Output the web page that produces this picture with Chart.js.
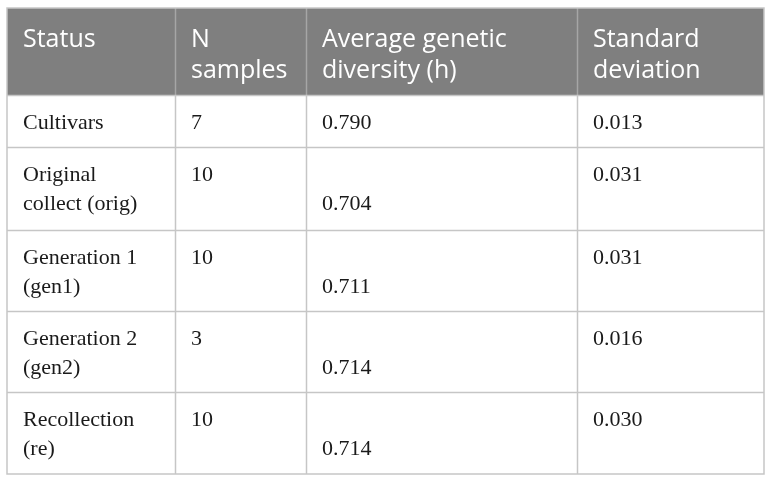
<!DOCTYPE html>
<html>
<head>
<meta charset="utf-8">
<script src="https://cdn.jsdelivr.net/npm/chart.js@4.4.0/dist/chart.umd.min.js"></script>
<style>
  html, body { margin: 0; padding: 0; background: #fff; }
  #wrap { width: 772px; height: 483px; }
</style>
</head>
<body>
<div id="wrap"><canvas id="tbl"></canvas></div>
<script>
// table content
const headerLabels = ["Status", "N\nsamples", "Average genetic\ndiversity (h)", "Standard\ndeviation"];
const statusLabels = ["Cultivars", "Original\ncollect (orig)", "Generation 1\n(gen1)", "Generation 2\n(gen2)", "Recollection\n(re)"];
const nSamples = [7, 10, 10, 3, 10];
const avgDiversity = [0.790, 0.704, 0.711, 0.714, 0.714];
const stdDeviation = [0.013, 0.031, 0.031, 0.016, 0.030];

// layout (scale units == px inside chart area)
const colEdges = [0, 168, 299, 570, 757];
const rowHeights = [87, 52, 83, 81, 81, 82];
const totalH = rowHeights.reduce((a, b) => a + b, 0);

const bodyRows = statusLabels.map((s, i) => [
  s,
  String(nSamples[i]),
  avgDiversity[i].toFixed(3),
  stdDeviation[i].toFixed(3)
]);

const tablePlugin = {
  id: "tableCells",
  afterDraw(chart) {
    const { ctx, scales: { x, y } } = chart;
    let top = 0;
    const rows = [headerLabels].concat(bodyRows);
    rows.forEach((row, r) => {
      const bottom = top + rowHeights[r];
      const py0 = y.getPixelForValue(top);
      const py1 = y.getPixelForValue(bottom);
      const isHead = r === 0;
      const nLines = Math.max(...row.map(t => t.split("\n").length));

      row.forEach((txt, c) => {
        const px0 = x.getPixelForValue(colEdges[c]);
        const px1 = x.getPixelForValue(colEdges[c + 1]);
        ctx.save();
        ctx.fillStyle = isHead ? "#7f7f7f" : "#ffffff";
        ctx.fillRect(px0, py0, px1 - px0, py1 - py0);
        ctx.restore();

        ctx.save();
        ctx.fillStyle = isHead ? "#ffffff" : "#1a1a1a";
        ctx.font = isHead ? "25px 'Open Sans'" : "22px 'Liberation Serif'";
        ctx.textBaseline = "alphabetic";
        const lh = isHead ? 31 : 29.5;
        const first = isHead ? 39 : 33.5;
        const lines = txt.split("\n");
        // the diversity values sit on the last line of their row
        const shift = (!isHead && c === 2) ? nLines - lines.length : 0;
        lines.forEach((ln, k) => {
          ctx.fillText(ln, px0 + 16, py0 + first + (k + shift) * lh);
        });
        ctx.restore();
      });
      top = bottom;
    });

    // grid lines
    ctx.save();
    ctx.lineWidth = 1.5;
    top = 0;
    rowHeights.forEach((h, r) => {
      const py0 = y.getPixelForValue(top);
      const py1 = y.getPixelForValue(top + h);
      ctx.strokeStyle = r === 0 ? "#a6a6a6" : "#c6c6c6";
      for (let c = 1; c < colEdges.length - 1; c++) {
        const px = Math.round(x.getPixelForValue(colEdges[c])) + 0.5;
        ctx.beginPath();
        ctx.moveTo(px, py0);
        ctx.lineTo(px, py1);
        ctx.stroke();
      }
      if (r > 0) {
        ctx.strokeStyle = "#c6c6c6";
        const py = Math.round(py0) + 0.5;
        ctx.beginPath();
        ctx.moveTo(x.getPixelForValue(0), py);
        ctx.lineTo(x.getPixelForValue(colEdges[colEdges.length - 1]), py);
        ctx.stroke();
      }
      top += h;
    });
    ctx.strokeStyle = "#c6c6c6";
    ctx.strokeRect(
      x.getPixelForValue(0), y.getPixelForValue(0),
      x.getPixelForValue(colEdges[colEdges.length - 1]) - x.getPixelForValue(0),
      y.getPixelForValue(totalH) - y.getPixelForValue(0)
    );
    ctx.restore();
  }
};

new Chart(document.getElementById("tbl"), {
  type: "scatter",
  data: { datasets: [] },
  options: {
    responsive: true,
    maintainAspectRatio: false,
    animation: false,
    layout: { padding: { left: 7, top: 8, right: 8, bottom: 9 } },
    plugins: { legend: { display: false }, tooltip: { enabled: false } },
    scales: {
      x: { type: "linear", display: false, min: 0, max: colEdges[colEdges.length - 1] },
      y: { type: "linear", display: false, min: 0, max: totalH, reverse: true }
    }
  },
  plugins: [tablePlugin]
});
</script>
</body>
</html>
